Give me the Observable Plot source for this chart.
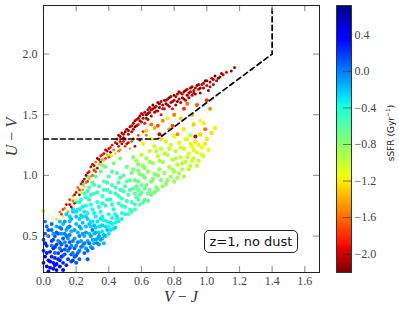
<!DOCTYPE html>
<html><head><meta charset="utf-8">
<script src="https://cdn.jsdelivr.net/npm/d3@7"></script>
<script src="https://cdn.jsdelivr.net/npm/@observablehq/plot@0.6"></script>
<style>
body{margin:0;background:#fff;}
#wrap{position:relative;width:399px;height:312px;overflow:hidden;background:#fff;}
#main{position:absolute;left:0;top:0}
#cbar{position:absolute;left:330px;top:0}
.lab{position:absolute;font-family:"Liberation Serif",serif;color:#333;font-size:16px;white-space:nowrap;text-align:center}
svg text{font-family:"Liberation Serif",serif;}
</style></head><body>
<div id="wrap">
  <div id="main"></div>
  <div id="cbar"></div>
  <div class="lab" style="left:0;top:288px;width:362px;"><i>V</i> − <i>J</i></div>
  <div class="lab" style="left:-88px;top:127px;width:200px;height:20px;line-height:20px;transform:rotate(-90deg);"><i>U</i> − <i>V</i></div>
  <div class="lab" style="left:338px;top:126px;width:100px;height:14px;line-height:14px;transform:rotate(-90deg);font-family:'DejaVu Sans',sans-serif;font-size:9px;color:#222;">sSFR (Gyr<sup style="font-size:6px">−1</sup>)</div>
  <div id="note" style="position:absolute;left:204px;top:230px;width:94px;height:23px;box-sizing:border-box;border:1px solid #222;border-radius:5px;font-family:'DejaVu Sans',sans-serif;font-size:13px;line-height:21px;text-align:center;color:#111;background:#fff;">z=1, no dust</div>
</div>
<script>
// ---------- data: [V-J, U-V, sSFR] ----------
const quiescentRidge = [
[0.45,1.30,-2.0],[0.46,1.33,-2.1],[0.47,1.28,-1.9],[0.48,1.35,-2.1],[0.49,1.31,-2.0],[0.50,1.36,-2.2],[0.50,1.30,-1.9],[0.51,1.38,-2.1],[0.52,1.34,-2.0],[0.53,1.40,-2.1],[0.54,1.36,-2.0],[0.55,1.43,-2.2],[0.55,1.38,-2.0],
[0.56,1.45,-2.1],[0.57,1.41,-2.0],[0.58,1.47,-2.1],[0.58,1.42,-1.9],[0.59,1.49,-2.2],[0.60,1.44,-2.0],[0.60,1.51,-2.1],[0.61,1.47,-2.1],[0.62,1.52,-2.0],[0.62,1.43,-1.9],[0.63,1.50,-2.2],[0.64,1.54,-2.1],[0.64,1.46,-2.0],[0.65,1.52,-2.0],[0.65,1.56,-2.1],
[0.66,1.49,-2.1],[0.67,1.55,-2.0],[0.67,1.58,-2.2],[0.68,1.52,-2.1],[0.69,1.57,-2.0],[0.70,1.60,-2.1],[0.70,1.53,-2.0],[0.71,1.56,-2.2],[0.72,1.61,-2.0],[0.72,1.50,-1.9],[0.73,1.58,-2.1],[0.74,1.62,-2.1],[0.74,1.55,-2.0],[0.75,1.59,-2.2],
[0.76,1.63,-2.0],[0.77,1.57,-2.1],[0.78,1.65,-2.1],[0.78,1.60,-2.0],[0.79,1.55,-1.9],[0.80,1.66,-2.2],[0.80,1.62,-2.0],[0.81,1.58,-2.1],[0.82,1.67,-2.1],[0.83,1.63,-2.0],[0.84,1.60,-2.1],[0.84,1.68,-2.0],[0.85,1.64,-2.2],
[0.86,1.69,-2.1],[0.87,1.62,-2.0],[0.88,1.66,-2.1],[0.88,1.71,-2.0],[0.89,1.64,-2.2],[0.90,1.69,-2.1],[0.91,1.66,-2.0],[0.91,1.73,-2.1],[0.92,1.70,-2.0],[0.93,1.67,-2.1],[0.94,1.74,-2.2],[0.95,1.71,-2.0],
[0.96,1.68,-2.1],[0.97,1.75,-2.0],[0.98,1.72,-2.1],[0.99,1.78,-2.2],[1.00,1.74,-2.0],[1.01,1.70,-2.1],[1.02,1.77,-2.1],[1.03,1.80,-2.0],[1.04,1.75,-2.1],[1.05,1.82,-2.2],[1.06,1.78,-2.0],[1.08,1.81,-2.1],[1.10,1.83,-2.0],[1.15,1.86,-2.1],[1.17,1.89,-2.1],
[0.47,1.32,-2.1],[0.49,1.34,-2.0],[0.52,1.37,-2.1],[0.54,1.41,-2.0],[0.56,1.40,-2.2],[0.57,1.46,-2.0],[0.59,1.45,-2.1],[0.61,1.50,-2.0],[0.63,1.47,-2.1],[0.64,1.51,-2.2],[0.66,1.54,-2.0],[0.68,1.56,-2.1],[0.69,1.53,-2.0],[0.71,1.59,-2.1],[0.73,1.55,-2.0],[0.75,1.62,-2.1],[0.76,1.58,-2.0],[0.77,1.64,-2.2],[0.79,1.61,-2.1],[0.81,1.65,-2.0],[0.82,1.61,-2.2],[0.83,1.69,-2.1],[0.85,1.67,-2.0],[0.86,1.63,-2.1],[0.87,1.70,-2.2],[0.89,1.68,-2.0],[0.90,1.72,-2.1],[0.92,1.68,-2.1],[0.93,1.72,-2.0],[0.95,1.75,-2.1],[0.96,1.72,-2.2],[0.98,1.76,-2.0],[1.00,1.78,-2.1],[1.02,1.73,-2.0],[1.04,1.79,-2.1],[1.07,1.80,-2.2],[1.09,1.84,-2.1],[1.12,1.85,-2.0]
];
const redEdge = [
[0.08,0.64,-1.3],[0.10,0.70,-1.6],[0.12,0.72,-1.9],[0.12,0.66,-1.2],[0.14,0.76,-2.0],[0.15,0.70,-1.5],[0.16,0.80,-1.8],[0.17,0.74,-2.1],[0.18,0.83,-1.4],[0.19,0.77,-1.9],[0.20,0.86,-2.0],[0.20,0.80,-1.2],[0.21,0.90,-1.7],[0.22,0.84,-2.1],[0.23,0.93,-1.9],[0.24,0.88,-1.5],[0.25,0.97,-2.0],[0.25,0.91,-1.3],[0.26,1.00,-2.1],[0.27,0.95,-1.8],[0.28,1.03,-1.9],[0.28,0.97,-1.4],[0.29,1.07,-2.0],[0.30,1.00,-1.7],[0.30,1.09,-2.1],[0.31,1.04,-1.9],[0.32,1.11,-1.6],[0.33,1.06,-2.0],[0.33,1.14,-2.2],[0.34,1.09,-1.3],[0.35,1.16,-1.9],[0.35,1.11,-2.1],[0.36,1.13,-1.5],[0.37,1.18,-2.0],[0.38,1.14,-1.8],[0.38,1.21,-2.1],[0.39,1.17,-1.4],[0.40,1.22,-2.0],[0.40,1.15,-1.7],[0.41,1.19,-2.1],[0.42,1.25,-1.9],[0.43,1.21,-1.6],[0.44,1.27,-2.0],[0.44,1.18,-1.3],[0.46,1.24,-1.9],[0.47,1.21,-1.5],[0.48,1.26,-2.1],[0.50,1.24,-1.8],[0.52,1.27,-2.0],[0.53,1.22,-1.4],[0.55,1.30,-1.9],[0.56,1.24,-2.1],[0.58,1.33,-1.7],[0.59,1.29,-2.0],[0.61,1.36,-1.8],[0.63,1.33,-1.6],
[0.11,0.68,-1.8],[0.13,0.73,-1.5],[0.16,0.76,-2.0],[0.18,0.79,-1.6],[0.19,0.84,-2.1],[0.22,0.88,-1.8],[0.23,0.86,-1.2],[0.24,0.95,-2.1],[0.26,0.94,-1.6],[0.27,1.02,-2.0],[0.29,0.99,-1.5],[0.31,1.08,-2.0],[0.32,1.03,-1.7],[0.34,1.13,-2.1],[0.36,1.17,-1.9],[0.37,1.12,-1.3],[0.39,1.20,-2.0],[0.41,1.23,-1.8],[0.42,1.16,-1.2],[0.45,1.26,-2.1],[0.46,1.20,-1.6],[0.49,1.28,-1.9],[0.51,1.26,-2.1],[0.54,1.28,-1.7]
];
const transition = [
[0.61,1.26,-1.2],[0.63,1.37,-1.3],[0.66,1.42,-1.6],[0.68,1.39,-1.4],[0.70,1.41,-1.7],[0.71,1.34,-2.0],[0.73,1.45,-1.5],[0.76,1.47,-1.2],[0.77,1.38,-1.4],[0.79,1.41,-1.7],[0.80,1.50,-1.6],[0.82,1.34,-1.5],[0.84,1.47,-1.3],[0.86,1.55,-1.8],[0.88,1.59,-1.6],[0.90,1.26,-1.2],[0.91,1.50,-1.4],[0.93,1.32,-2.0],[0.94,1.58,-1.7],[0.96,1.45,-1.1],[0.98,1.43,-1.2],[0.99,1.38,-1.6],[1.00,1.62,-1.8],[1.02,1.55,-1.5],[0.72,1.30,-1.3],[0.66,1.30,-1.1]
];
const greenCloud = [
[0.00,0.71,-1.0],
[0.55,1.05,-0.8],[0.56,0.96,-0.7],[0.57,1.12,-0.9],[0.58,0.88,-0.7],[0.59,1.01,-0.8],[0.60,1.17,-1.0],[0.60,0.92,-0.7],[0.61,1.08,-0.8],[0.62,0.98,-0.75],[0.63,1.14,-0.9],[0.64,0.85,-0.7],[0.64,1.03,-0.85],[0.65,1.20,-1.0],
[0.66,0.95,-0.75],[0.67,1.10,-0.9],[0.68,1.01,-0.8],[0.68,1.24,-1.1],[0.69,0.90,-0.75],[0.70,1.16,-0.95],[0.71,1.05,-0.85],[0.72,0.96,-0.8],[0.72,1.22,-1.0],[0.73,1.11,-0.9],[0.74,1.02,-0.85],[0.75,1.28,-1.1],[0.75,0.93,-0.8],
[0.76,1.17,-0.95],[0.77,1.07,-0.9],[0.78,0.99,-0.85],[0.78,1.25,-1.05],[0.79,1.13,-0.95],[0.80,1.03,-0.9],[0.80,1.32,-1.1],[0.81,1.20,-1.0],[0.82,1.09,-0.95],[0.82,0.98,-0.85],[0.83,1.27,-1.1],[0.84,1.15,-1.0],[0.85,1.05,-0.95],
[0.86,1.22,-1.05],[0.87,1.11,-1.0],[0.88,1.30,-1.15],[0.89,1.18,-1.1],[0.90,1.08,-1.0],[0.90,1.33,-0.95],[0.91,1.24,-1.15],[0.92,1.14,-1.05],[0.93,1.28,-1.2],[0.94,1.19,-1.1],[0.95,1.12,-1.0],[0.96,1.34,-1.25],[0.97,1.23,-1.15],[0.98,1.16,-1.1],[1.00,1.30,-1.2],[1.01,1.21,-1.15],[1.03,1.35,-1.25],[1.05,1.39,-1.2],[0.92,1.42,-1.3],[0.86,1.38,-1.2],
[0.67,0.97,-0.75],[0.70,1.00,-0.8],[0.71,1.12,-0.9],[0.73,0.91,-0.8],[0.74,1.18,-0.95],[0.76,0.96,-0.85],[0.77,1.22,-1.0],[0.79,1.05,-0.9],[0.80,0.95,-0.85],[0.81,1.14,-0.95],[0.83,1.02,-0.9],[0.84,1.23,-1.05],[0.85,1.10,-0.95],[0.86,0.99,-0.9],[0.87,1.30,-1.1],[0.88,1.15,-1.0],[0.89,1.05,-0.95],[0.91,1.12,-1.0],[0.92,1.21,-1.1],[0.94,1.08,-1.0],[0.95,1.25,-1.15],[0.97,1.17,-1.1],[0.99,1.26,-1.2],[0.62,1.06,-0.8],[0.65,1.11,-0.85],[0.58,1.09,-0.8],[0.69,1.20,-0.95]
];
const cyanCloud = [
[0.22,0.72,-0.35],[0.23,0.80,-0.45],[0.24,0.66,-0.3],[0.25,0.85,-0.5],[0.26,0.75,-0.4],[0.27,0.69,-0.35],[0.28,0.90,-0.55],[0.28,0.80,-0.45],[0.29,0.62,-0.3],[0.30,0.94,-0.6],[0.30,0.72,-0.4],
[0.31,0.85,-0.5],[0.32,0.66,-0.35],[0.32,0.99,-0.6],[0.33,0.78,-0.45],[0.34,0.91,-0.55],[0.34,0.58,-0.3],[0.35,0.70,-0.4],[0.35,1.03,-0.65],[0.36,0.83,-0.5],[0.37,0.95,-0.55],[0.37,0.63,-0.35],[0.38,0.75,-0.45],[0.38,1.07,-0.7],[0.39,0.88,-0.5],[0.40,0.68,-0.4],[0.40,0.99,-0.6],
[0.41,0.80,-0.45],[0.42,0.60,-0.35],[0.42,0.92,-0.55],[0.43,1.10,-0.7],[0.43,0.72,-0.4],[0.44,0.85,-0.5],[0.45,1.02,-0.6],[0.45,0.64,-0.4],[0.46,0.77,-0.45],[0.46,0.94,-0.55],[0.47,0.88,-0.5],[0.47,1.14,-0.75],[0.48,0.69,-0.45],[0.48,0.81,-0.5],[0.49,1.00,-0.6],[0.50,0.91,-0.55],[0.50,0.74,-0.5],
[0.51,1.07,-0.65],[0.52,0.84,-0.55],[0.52,0.68,-0.5],[0.53,0.96,-0.6],[0.54,0.78,-0.55],[0.55,0.89,-0.6],[0.55,1.15,-0.75],[0.56,0.72,-0.55],[0.57,0.82,-0.6],[0.58,0.95,-0.65],[0.59,0.76,-0.6],[0.60,0.86,-0.65],[0.61,1.00,-0.7],[0.62,0.80,-0.65],[0.63,0.92,-0.7],
[0.18,0.72,-0.3],[0.20,0.78,-0.4],[0.24,0.93,-0.5],[0.27,0.99,-0.6],[0.31,1.05,-0.7],[0.36,1.08,-0.75],[0.41,1.16,-0.8],[0.16,0.66,-0.25],
[0.20,0.70,-0.3],[0.22,0.78,-0.4],[0.24,0.74,-0.35],[0.26,0.82,-0.45],[0.27,0.87,-0.5],[0.29,0.76,-0.4],[0.29,0.84,-0.45],[0.31,0.69,-0.35],[0.31,0.92,-0.55],[0.33,0.86,-0.5],[0.34,0.74,-0.4],[0.36,0.66,-0.35],[0.36,0.77,-0.45],[0.37,0.88,-0.5],[0.39,0.80,-0.45],[0.39,0.94,-0.55],[0.41,0.86,-0.5],[0.42,0.76,-0.45],[0.42,1.03,-0.6],[0.44,0.68,-0.4],[0.44,0.90,-0.55],[0.46,0.83,-0.5],[0.47,0.98,-0.6],[0.48,0.75,-0.45],[0.49,0.87,-0.55],[0.51,0.79,-0.5],[0.51,0.95,-0.6],[0.53,0.88,-0.55],[0.54,1.02,-0.65],[0.54,0.70,-0.5],[0.56,0.85,-0.6],[0.57,0.91,-0.6],[0.58,1.04,-0.7],[0.59,0.84,-0.6],[0.61,0.78,-0.6],[0.62,0.89,-0.65],[0.64,0.79,-0.65],[0.65,0.88,-0.7],[0.66,0.84,-0.7],[0.68,0.86,-0.7],[0.70,0.88,-0.75]
];
const blueCloud = [
[0.05,0.42,0.0],[0.06,0.52,-0.1],[0.07,0.36,0.05],[0.08,0.58,-0.15],[0.09,0.46,-0.05],[0.10,0.62,-0.2],[0.10,0.40,0.0],[0.11,0.52,-0.1],[0.12,0.34,0.05],[0.12,0.60,-0.2],[0.13,0.45,-0.05],[0.14,0.55,-0.15],[0.14,0.68,-0.25],[0.15,0.38,0.0],[0.15,0.48,-0.1],
[0.16,0.62,-0.2],[0.17,0.42,-0.05],[0.17,0.54,-0.15],[0.18,0.70,-0.25],[0.18,0.36,0.0],[0.19,0.48,-0.1],[0.20,0.60,-0.2],[0.20,0.42,-0.05],[0.21,0.53,-0.15],[0.21,0.72,-0.3],[0.22,0.38,0.0],[0.22,0.64,-0.25],[0.23,0.46,-0.1],[0.23,0.56,-0.2],[0.24,0.42,-0.05],[0.24,0.61,-0.2],[0.25,0.50,-0.15],[0.25,0.70,-0.3],
[0.26,0.40,-0.1],[0.26,0.58,-0.2],[0.27,0.46,-0.15],[0.27,0.64,-0.25],[0.28,0.52,-0.2],[0.29,0.41,-0.1],[0.29,0.58,-0.25],[0.30,0.47,-0.15],[0.30,0.62,-0.3],[0.31,0.52,-0.2],[0.31,0.44,-0.15],[0.32,0.57,-0.25],[0.33,0.48,-0.2],[0.33,0.62,-0.3],[0.34,0.43,-0.15],[0.34,0.53,-0.25],[0.35,0.58,-0.3],
[0.36,0.48,-0.2],[0.36,0.54,-0.3],[0.37,0.44,-0.2],[0.38,0.58,-0.3],[0.38,0.50,-0.25],[0.39,0.62,-0.35],[0.40,0.52,-0.3],[0.40,0.58,-0.35],[0.41,0.55,-0.3],[0.42,0.65,-0.35],[0.43,0.56,-0.3],[0.44,0.61,-0.35],[0.46,0.62,-0.35],
[0.27,0.31,0.1],[0.34,0.50,-0.1],[0.30,0.55,0.0],[0.22,0.50,0.0],[0.16,0.58,0.0],[0.28,0.44,0.05],
[0.01,0.44,0.25],[0.02,0.36,0.3],[0.03,0.55,0.1],[0.04,0.29,0.35],[0.05,0.60,0.05],[0.06,0.47,0.15],[0.07,0.26,0.3],[0.07,0.41,0.2],[0.08,0.53,0.1],[0.09,0.31,0.25],[0.10,0.57,0.0],[0.11,0.43,0.1],[0.11,0.33,0.2],[0.13,0.62,-0.1],[0.13,0.39,0.1],[0.14,0.50,0.0],[0.15,0.57,-0.05],[0.16,0.40,0.1],[0.16,0.51,0.0],[0.17,0.64,-0.15],[0.18,0.46,0.0],[0.19,0.55,-0.1],[0.19,0.33,0.1],[0.20,0.66,-0.2],[0.21,0.45,0.0],[0.21,0.36,0.05],[0.22,0.58,-0.1],[0.23,0.41,0.0],[0.23,0.67,-0.2],[0.24,0.52,-0.1],[0.25,0.44,0.0],[0.26,0.53,-0.1],[0.26,0.66,-0.25],[0.27,0.38,0.05],[0.28,0.60,-0.2],[0.29,0.50,-0.1],[0.30,0.40,0.0],[0.31,0.59,-0.2],[0.32,0.47,-0.1],[0.32,0.53,-0.15],[0.33,0.44,-0.05],[0.35,0.47,-0.1],[0.35,0.64,-0.3],[0.36,0.59,-0.25],[0.37,0.51,-0.15],[0.39,0.55,-0.2],[0.41,0.61,-0.3],[0.44,0.57,-0.25],[0.45,0.66,-0.3],[0.48,0.64,-0.35],[0.50,0.68,-0.4],[0.53,0.72,-0.45],[0.56,0.76,-0.5],[0.58,0.80,-0.55],[0.20,0.28,0.1],[0.17,0.29,0.15],[0.10,0.25,0.3],[0.12,0.22,0.35],[0.06,0.23,0.3]
];
const darkBlueCloud = [
[0.00,0.28,0.35],[0.00,0.38,0.25],[0.00,0.47,0.15],[0.01,0.33,0.4],[0.01,0.52,0.1],[0.02,0.25,0.4],[0.02,0.42,0.25],[0.03,0.30,0.3],[0.03,0.50,0.15],[0.04,0.37,0.3],[0.04,0.24,0.5],[0.05,0.46,0.2],[0.05,0.33,0.3],[0.06,0.28,0.35],[0.06,0.40,0.25],[0.07,0.50,0.15],[0.07,0.32,0.3],[0.08,0.43,0.2],[0.08,0.27,0.35],[0.09,0.36,0.25],[0.09,0.52,0.1],[0.10,0.30,0.3],[0.10,0.45,0.15],[0.11,0.38,0.2],[0.12,0.28,0.25],[0.12,0.48,0.1],[0.13,0.35,0.2],[0.14,0.42,0.15],[0.15,0.31,0.2],[0.16,0.45,0.1],[0.17,0.35,0.15],[0.18,0.30,0.2],[0.19,0.40,0.1],[0.20,0.34,0.15],[0.03,0.21,0.45],[0.08,0.22,0.4],[0.14,0.26,0.25],[0.22,0.31,0.1],[0.25,0.36,0.1],[0.02,0.58,0.05],[0.05,0.55,0.05],[0.11,0.56,0.05],[0.13,0.52,0.0],[0.01,0.62,0.0]
];
// selection box (UVJ quiescent cut)
const cutVJ = [0, 0.70, 1.40, 1.40];
const cutUV = [1.30, 1.30, 2.00, 2.40];
// ticks
const xTicks = [0, 0.2, 0.4, 0.6, 0.8, 1.0, 1.2, 1.4, 1.6];
const yTicks = [0.5, 1.0, 1.5, 2.0];
const cbTicks = [0.4, 0.0, -0.4, -0.8, -1.2, -1.6, -2.0];
const sDomain = [-2.2, 0.72];

// ---------- jet colormap (reversed: low sSFR = dark red) ----------
const chR = d3.scaleLinear().domain([0,0.35,0.66,0.89,1]).range([0,0,1,1,0.5]).clamp(true);
const chG = d3.scaleLinear().domain([0,0.125,0.375,0.64,0.91,1]).range([0,0,1,1,0,0]).clamp(true);
const chB = d3.scaleLinear().domain([0,0.11,0.34,0.65,1]).range([0.5,1,1,0,0]).clamp(true);
const jet = t => d3.rgb(255*chR(t), 255*chG(t), 255*chB(t)).formatHex();
const jetR = t => jet(1 - t);

const toObj = a => a.map(([vj, uv, s]) => ({vj, uv, s}));
const cut = cutVJ.map((v, i) => ({vj: v, uv: cutUV[i]}));
const fmt = d3.format(".1f");
const serif = "'Liberation Serif', serif";

const dotOpts = (r) => ({x: "vj", y: "uv", fill: "s", r, stroke: null});

const main = Plot.plot({
  width: 330, height: 312,
  marginTop: 5, marginRight: 11, marginBottom: 40, marginLeft: 43,
  x: {domain: [0, 1.69]},
  y: {domain: [0.2, 2.4]},
  color: {type: "linear", domain: sDomain, interpolate: jetR},
  style: {fontFamily: serif, fontSize: "12px", color: "#444", background: "transparent"},
  marks: [
    Plot.dot(toObj(darkBlueCloud), dotOpts(1.9)),
    Plot.dot(toObj(blueCloud), dotOpts(2.0)),
    Plot.dot(toObj(cyanCloud), dotOpts(2.1)),
    Plot.dot(toObj(greenCloud), dotOpts(2.2)),
    Plot.dot(toObj(transition), dotOpts(2.0)),
    Plot.dot(toObj(redEdge), dotOpts(1.4)),
    Plot.dot(toObj(quiescentRidge), dotOpts(1.5)),
    Plot.line(cut, {x: "vj", y: "uv", stroke: "black", strokeWidth: 1.7, strokeDasharray: "5,3.5"}),
    Plot.ruleX(xTicks, {x: d => d, insetTop: 261, stroke: "#999", strokeWidth: 1.2}),
    Plot.ruleX(xTicks, {x: d => d, insetBottom: 261, stroke: "#999", strokeWidth: 1.2}),
    Plot.ruleY(yTicks, {y: d => d, insetRight: 270, stroke: "#999", strokeWidth: 1.2}),
    Plot.ruleY(yTicks, {y: d => d, insetLeft: 270, stroke: "#999", strokeWidth: 1.2}),
    Plot.frame({stroke: "#222", strokeWidth: 1}),
    Plot.axisX({ticks: xTicks, tickSize: 0, tickPadding: 4, tickFormat: fmt, label: null, fill: "#444", fontFamily: serif, fontSize: 12}),
    Plot.axisY({ticks: yTicks, tickSize: 0, tickPadding: 6, tickFormat: fmt, label: null, fill: "#444", fontFamily: serif, fontSize: 12})
  ]
});
document.getElementById("main").appendChild(main);

const stops = d3.range(0, 293).map(i => -2.2 + i * 0.01);
const cbar = Plot.plot({
  width: 69, height: 312,
  marginTop: 5, marginBottom: 40, marginLeft: 6, marginRight: 48,
  x: {domain: [0, 1], axis: null},
  y: {domain: [-2.2, 0.72]},
  color: {type: "linear", domain: sDomain, interpolate: jetR},
  style: {fontFamily: serif, fontSize: "12px", color: "#444", background: "transparent"},
  marks: [
    Plot.rect(stops, {x1: 0, x2: 1, y1: d => d, y2: d => Math.min(d + 0.012, 0.72), fill: d => d + 0.005, shapeRendering: "crispEdges"}),
    Plot.ruleY(cbTicks, {y: d => d, insetLeft: 7, stroke: "#222", strokeOpacity: 0.55}),
    Plot.frame({stroke: "#333", strokeWidth: 1}),
    Plot.axisY({anchor: "right", ticks: cbTicks, tickSize: 0, tickPadding: 3, tickFormat: fmt, label: null, fill: "#444", fontFamily: serif, fontSize: 12})
  ]
});
document.getElementById("cbar").appendChild(cbar);
</script>
</body></html>
